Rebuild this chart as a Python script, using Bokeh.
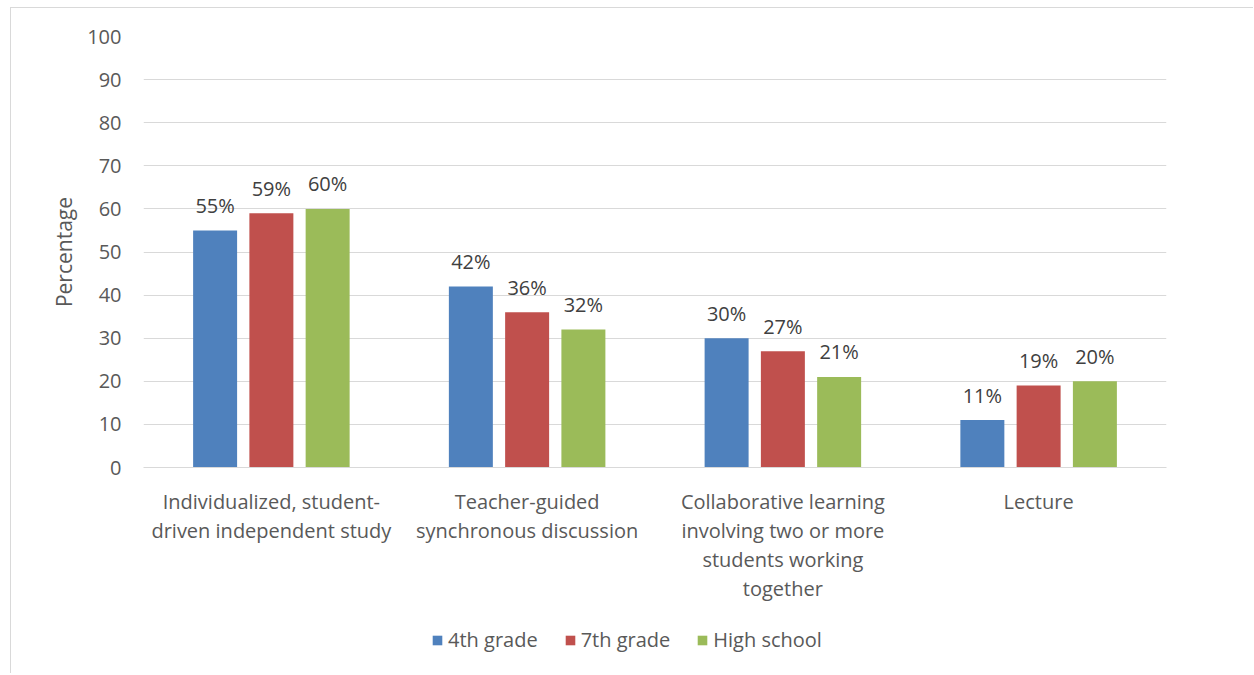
from bokeh.plotting import figure
from bokeh.layouts import column
from bokeh.models import ColumnDataSource, FactorRange, FixedTicker, Legend, LegendItem, Range1d
from bokeh.transform import dodge
from bokeh.core.properties import value
from bokeh.embed import file_html
from bokeh.resources import INLINE

categories = [
    "Individualized, student-\ndriven independent study",
    "Teacher-guided\nsynchronous discussion",
    "Collaborative learning\ninvolving two or more\nstudents working\ntogether",
    "Lecture",
]
series_names = ["4th grade", "7th grade", "High school"]
grade4 = [55, 42, 30, 11]
grade7 = [59, 36, 27, 19]
high_school = [60, 32, 21, 20]
y_ticks = [0, 10, 20, 30, 40, 50, 60, 70, 80, 90, 100]

colors = ["#4F81BD", "#C0504D", "#9BBB59"]
FONT = "Open Sans"

src = ColumnDataSource(dict(
    cat=categories,
    g4=grade4, g7=grade7, hs=high_school,
    g4l=[f"{v}%" for v in grade4],
    g7l=[f"{v}%" for v in grade7],
    hsl=[f"{v}%" for v in high_school],
))

p = figure(
    x_range=FactorRange(*categories, range_padding=0),
    y_range=(0, 100),
    width=1242, height=596,
    output_backend="svg", toolbar_location=None,
    min_border_left=132, min_border_right=87,
    min_border_top=28, min_border_bottom=133,
)
p.outline_line_color = None
p.background_fill_color = "white"

for key, lab, off, col in zip(["g4", "g7", "hs"], ["g4l", "g7l", "hsl"], [-0.22, 0.0, 0.22], colors):
    p.vbar(x=dodge("cat", off, range=p.x_range), top=key, width=0.172,
           source=src, fill_color=col, line_color=None)
    p.text(x=dodge("cat", off, range=p.x_range), y=key, text=lab, source=src,
           text_align="center", text_baseline="alphabetic", y_offset=-25,
           text_font=value(FONT), text_font_size="20px", text_color="#404040")

# axes
p.yaxis.ticker = FixedTicker(ticks=y_ticks)
p.yaxis.axis_line_color = None
p.yaxis.major_tick_line_color = None
p.yaxis.minor_tick_line_color = None
p.yaxis.major_label_standoff = 16
p.yaxis.major_label_text_font = FONT
p.yaxis.major_label_text_font_size = "20px"
p.yaxis.major_label_text_color = "#595959"
p.yaxis.axis_label = "Percentage"
p.yaxis.axis_label_text_font = FONT
p.yaxis.axis_label_text_font_style = "normal"
p.yaxis.axis_label_text_font_size = "21px"
p.yaxis.axis_label_text_color = "#595959"
p.yaxis.axis_label_standoff = 6

p.xaxis.axis_line_color = "#d9d9d9"
p.xaxis.major_tick_line_color = None
p.xaxis.minor_tick_line_color = None
p.xaxis.major_label_standoff = 14
p.xaxis.major_label_text_font = FONT
p.xaxis.major_label_text_font_size = "20px"
p.xaxis.major_label_text_color = "#595959"
p.xaxis.major_label_text_line_height = 1.08

p.xgrid.grid_line_color = None
p.ygrid.grid_line_color = "#d9d9d9"
p.ygrid.ticker = FixedTicker(ticks=y_ticks)

# legend strip below the chart
lf = figure(width=1242, height=69, output_backend="svg", toolbar_location=None,
            x_range=Range1d(0, 1), y_range=Range1d(0, 1),
            x_axis_type=None, y_axis_type=None,
            min_border=0, min_border_left=0, min_border_right=0,
            min_border_top=0, min_border_bottom=0)
lf.grid.visible = False
lf.outline_line_color = None
dummies = [lf.vbar(x=[-5], top=[-5], width=0.1, fill_color=c, line_color=None) for c in colors]
legend = Legend(
    items=[LegendItem(label=n, renderers=[r]) for n, r in zip(series_names, dummies)],
    orientation="horizontal",
    location=(288, 20),
    label_text_font=FONT, label_text_font_size="20px", label_text_color="#595959",
    glyph_width=12, glyph_height=12, spacing=26, label_standoff=5,
    border_line_color=None, background_fill_alpha=0,
    padding=6, margin=0,
)
lf.add_layout(legend, "center")

layout = column(p, lf, spacing=0)
layout.styles = {"margin-left": "10px", "margin-top": "7px",
                 "border-left": "1px solid #d9d9d9", "border-top": "1px solid #d9d9d9"}

open("out.html", "w").write(file_html(layout, INLINE))
